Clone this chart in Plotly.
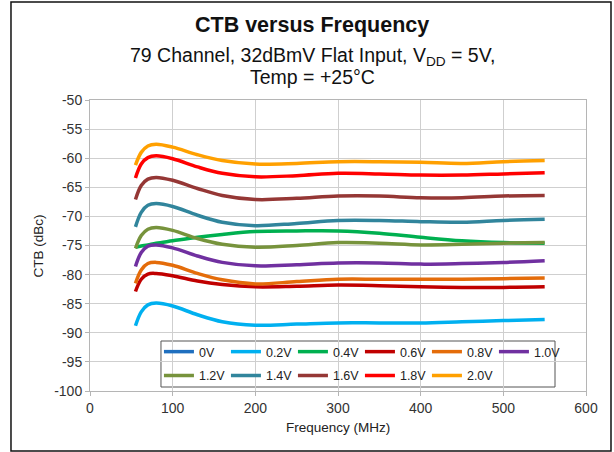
import plotly.graph_objects as go

# frequency points (MHz)
freq = [55, 62, 70, 80, 100, 130, 160, 200, 250, 300, 350, 400, 450, 500, 550]

# CTB (dBc) per bias voltage
ctb_0v0 = [None] * len(freq)
ctb_0v2 = [-88.8, -86.4, -85.2, -84.9, -85.4, -86.9, -88.1, -88.7, -88.5, -88.3, -88.3, -88.3, -88.1, -87.9, -87.7]
ctb_0v4 = [-75.3, -75.1, -74.9, -74.6, -74.2, -73.6, -73.1, -72.6, -72.5, -72.5, -72.9, -73.6, -74.2, -74.5, -74.6]
ctb_0v6 = [-82.9, -80.8, -79.9, -79.8, -80.2, -81.1, -81.7, -82.1, -82.0, -81.8, -81.9, -82.1, -82.2, -82.2, -82.1]
ctb_0v8 = [-81.5, -79.2, -78.1, -77.9, -78.4, -79.8, -80.9, -81.6, -81.2, -80.8, -80.8, -80.8, -80.8, -80.7, -80.6]
ctb_1v0 = [-78.6, -76.2, -75.1, -74.9, -75.4, -76.8, -77.9, -78.5, -78.3, -78.0, -78.0, -78.2, -78.1, -77.9, -77.6]
ctb_1v2 = [-75.5, -73.3, -72.2, -71.9, -72.4, -73.8, -74.8, -75.3, -75.0, -74.5, -74.6, -74.9, -74.8, -74.6, -74.5]
ctb_1v4 = [-71.8, -69.3, -68.1, -67.8, -68.3, -69.8, -71.0, -71.6, -71.2, -70.7, -70.7, -70.9, -71.0, -70.7, -70.5]
ctb_1v6 = [-67.1, -64.7, -63.6, -63.3, -63.8, -65.2, -66.4, -67.1, -66.9, -66.5, -66.5, -66.8, -66.8, -66.5, -66.4]
ctb_1v8 = [-63.4, -61.0, -59.9, -59.6, -60.1, -61.5, -62.6, -63.2, -63.0, -62.6, -62.7, -62.9, -62.9, -62.7, -62.5]
ctb_2v0 = [-61.2, -59.0, -57.9, -57.6, -58.1, -59.4, -60.4, -61.0, -60.9, -60.6, -60.6, -60.7, -60.9, -60.6, -60.4]

labels = ["0V", "0.2V", "0.4V", "0.6V", "0.8V", "1.0V", "1.2V", "1.4V", "1.6V", "1.8V", "2.0V"]
series = [ctb_0v0, ctb_0v2, ctb_0v4, ctb_0v6, ctb_0v8, ctb_1v0, ctb_1v2, ctb_1v4, ctb_1v6, ctb_1v8, ctb_2v0]
colors = ["#1F6FBF", "#00B0F0", "#00B050", "#C00000", "#E46C0A", "#7030A0",
          "#77933C", "#31859C", "#953735", "#FF0000", "#FFA000"]

# axis ticks (Excel style hyphen minus)
x_ticks = [0, 100, 200, 300, 400, 500, 600]
y_ticks = [-100, -95, -90, -85, -80, -75, -70, -65, -60, -55, -50]

FONT = "Arial, Liberation Sans, sans-serif"

fig = go.Figure()
for i, (name, y, c) in enumerate(zip(labels, series, colors)):
    fig.add_trace(go.Scatter(
        x=freq, y=y, name=name, mode="lines",
        line=dict(color=c, width=3.5, shape="spline", smoothing=1.0),
        legend="legend" if i < 6 else "legend2",
    ))

legend_style = dict(
    orientation="h", x=0.139, xanchor="left", yanchor="middle",
    bgcolor="rgba(0,0,0,0)", borderwidth=0,
    font=dict(family=FONT, size=12.5, color="#222"),
    entrywidth=22, itemwidth=30,
)

axis_style = dict(
    showgrid=True, gridcolor="#CFCFCF", gridwidth=1,
    showline=True, linecolor="#B5B5B5", mirror=True, zeroline=False,
    ticks="outside", ticklen=4, tickcolor="#B5B5B5",
    tickfont=dict(family=FONT, size=14, color="#333"),
)

fig.update_layout(
    width=614, height=452,
    margin=dict(l=90, r=28, t=100, b=61),
    paper_bgcolor="white", plot_bgcolor="white",
    font=dict(family=FONT, size=13, color="#222"),
    showlegend=True,
    legend=dict(legend_style, y=0.134),
    legend2=dict(legend_style, y=0.052),
    xaxis=dict(axis_style, range=[0, 600], tickvals=x_ticks, ticktext=[str(v) for v in x_ticks]),
    yaxis=dict(axis_style, range=[-100, -50], tickvals=y_ticks, ticktext=[str(v) for v in y_ticks]),
    annotations=[
        dict(text="<b>CTB versus Frequency</b>", x=0.4476, y=1.0, xref="paper", yref="paper",
             yshift=75, showarrow=False, font=dict(family=FONT, size=21.5, color="#111"),
             xanchor="center", yanchor="middle"),
        dict(text="79 Channel, 32dBmV Flat Input, V<sub>DD</sub> = 5V,", x=0.4476, y=1.0,
             xref="paper", yref="paper", yshift=44, showarrow=False,
             font=dict(family=FONT, size=19.5, color="#111"), xanchor="center", yanchor="middle"),
        dict(text="Temp = +25°C", x=0.4476, y=1.0, xref="paper", yref="paper", yshift=23,
             showarrow=False, font=dict(family=FONT, size=19.5, color="#111"),
             xanchor="center", yanchor="middle"),
        dict(text="CTB (dBc)", x=-0.103, y=0.5, xref="paper", yref="paper", textangle=-90,
             showarrow=False, font=dict(family=FONT, size=13.5, color="#222"),
             xanchor="center", yanchor="middle"),
        dict(text="Frequency (MHz)", x=0.5, y=-0.124, xref="paper", yref="paper",
             showarrow=False, font=dict(family=FONT, size=13.5, color="#222"),
             xanchor="center", yanchor="middle"),
    ],
    shapes=[
        # legend frame
        dict(type="rect", xref="paper", yref="paper", x0=0.1431, x1=0.9375, y0=0.0137, y1=0.1718,
             line=dict(color="#555", width=1), fillcolor="white", layer="below"),
        # outer chart frame
        dict(type="rect", xref="paper", yref="paper", x0=-0.1593, x1=1.0504, y0=-0.2062, y1=1.3368,
             line=dict(color="#111", width=1.5)),
    ],
)

fig.write_html("out.html", config={"displayModeBar": False},
               post_script="document.body.style.margin='0px';")
